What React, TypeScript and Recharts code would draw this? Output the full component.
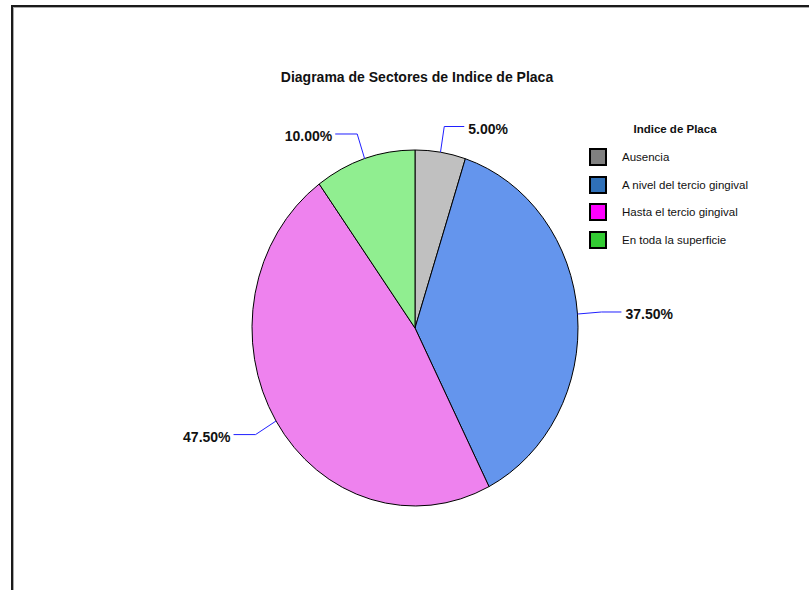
import React from 'react';
import { PieChart, Pie, Cell, Sector, Legend } from 'recharts';

const categories = ['Ausencia', 'A nivel del tercio gingival', 'Hasta el tercio gingival', 'En toda la superficie'];
const percents = [5.0, 37.5, 47.5, 10.0];
const sliceColors = ['#c0c0c0', '#6495ed', '#ee82ee', '#90ee90'];
const legendColors = ['#808080', '#2f70b8', '#ff00ff', '#33cc33'];
const chartTitle = 'Diagrama de Sectores de Indice de Placa';
const legendTitle = 'Indice de Placa';

const data = categories.map((name, i) => ({ name, value: percents[i] }));

const FONT = '"Liberation Sans", Arial, sans-serif';
const RAD = Math.PI / 180;
// the original pie is slightly taller than wide
const Y_SCALE = 178 / 163;

const EllipseSector = (props: any) => {
  const { cx, cy } = props;
  return (
    <g transform={`translate(${cx},${cy}) scale(1,${Y_SCALE}) translate(${-cx},${-cy})`}>
      <Sector {...props} stroke="#000" strokeWidth={1} vectorEffect="non-scaling-stroke" />
    </g>
  );
};

const renderLabel = (props: any) => {
  const { cx, cy, midAngle, outerRadius, value } = props;
  const cos = Math.cos(midAngle * RAD);
  const sin = Math.sin(midAngle * RAD);
  const sx = cx + outerRadius * cos;
  const sy = cy - outerRadius * Y_SCALE * sin;
  const mx = cx + (outerRadius + 24) * cos;
  const my = cy - (outerRadius * Y_SCALE + 26) * sin;
  const right = cos >= 0;
  const ex = mx + (right ? 20 : -22);
  return (
    <g>
      <polyline points={`${sx},${sy} ${mx},${my} ${ex},${my}`} fill="none" stroke="#2020ff" strokeWidth={1} />
      <text
        x={ex + (right ? 4 : -3)}
        y={my + 2}
        textAnchor={right ? 'start' : 'end'}
        dominantBaseline="central"
        fontFamily={FONT}
        fontWeight="bold"
        fontSize={14}
        fill="#111"
      >
        {`${Number(value).toFixed(2)}%`}
      </text>
    </g>
  );
};

const renderLegend = () => (
  <div style={{ fontFamily: FONT, color: '#111' }}>
    <div style={{ width: 172, height: 18, lineHeight: '18px', textAlign: 'center', fontWeight: 'bold', fontSize: 11.5 }}>
      {legendTitle}
    </div>
    <div style={{ marginTop: 5 }}>
      {categories.map((c, i) => (
        <div key={c} style={{ display: 'flex', alignItems: 'center', height: 27.7 }}>
          <div
            style={{
              width: 18,
              height: 18,
              boxSizing: 'border-box',
              border: '2px solid #000',
              background: legendColors[i],
            }}
          />
          <span style={{ marginLeft: 15, fontSize: 11.5 }}>{c}</span>
        </div>
      ))}
    </div>
  </div>
);

export default function App() {
  return (
    <div style={{ position: 'absolute', left: 0, top: 0, width: 809, height: 590, overflow: 'hidden', background: '#fff' }}>
      <div
        style={{
          position: 'absolute',
          left: 11,
          top: 5,
          width: 830,
          height: 620,
          border: '2px solid #1a1a1a',
          boxShadow: 'inset 1px 1px 0 #aaa',
        }}
      />
      <div
        style={{
          position: 'absolute',
          left: 217,
          top: 68,
          width: 400,
          textAlign: 'center',
          fontFamily: FONT,
          fontWeight: 'bold',
          fontSize: 14,
          color: '#111',
          lineHeight: '18px',
        }}
      >
        {chartTitle}
      </div>
      <div style={{ position: 'absolute', left: 0, top: 0 }}>
        <PieChart width={809} height={590} margin={{ top: 0, right: 0, bottom: 0, left: 0 }}>
          <Pie
            data={data}
            dataKey="value"
            nameKey="name"
            cx={415}
            cy={328}
            outerRadius={163}
            startAngle={90}
            endAngle={-270}
            shape={EllipseSector}
            label={renderLabel}
            labelLine={false}
            isAnimationActive={false}
          >
            {data.map((d, i) => (
              <Cell key={d.name} fill={sliceColors[i]} stroke="#000" />
            ))}
          </Pie>
          <Legend content={renderLegend} wrapperStyle={{ position: 'absolute', left: 589, top: 120, width: 200 }} />
        </PieChart>
      </div>
    </div>
  );
}
